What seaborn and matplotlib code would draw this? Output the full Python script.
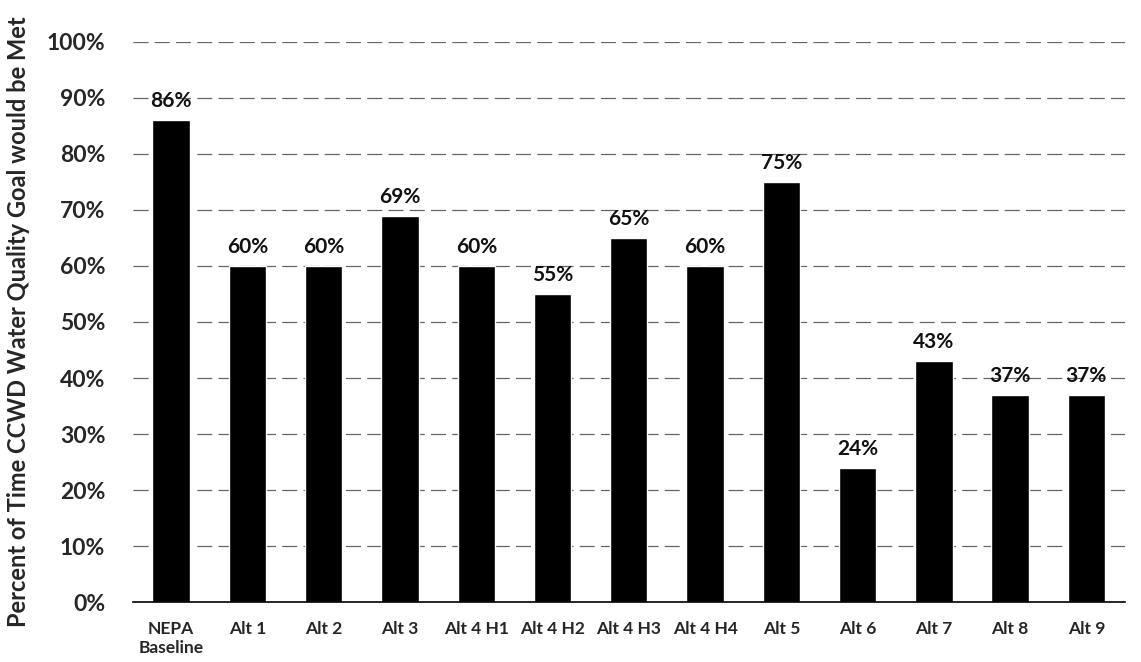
import matplotlib
matplotlib.use("Agg")
import matplotlib.pyplot as plt
import seaborn as sns
import pandas as pd

categories = ["NEPA\nBaseline", "Alt 1", "Alt 2", "Alt 3", "Alt 4 H1", "Alt 4 H2",
              "Alt 4 H3", "Alt 4 H4", "Alt 5", "Alt 6", "Alt 7", "Alt 8", "Alt 9"]
values = [86, 60, 60, 69, 60, 55, 65, 60, 75, 24, 43, 37, 37]
yticks = [0, 10, 20, 30, 40, 50, 60, 70, 80, 90, 100]

sns.set_theme(style="white")
plt.rcParams['font.family'] = ['Lato', 'DejaVu Sans']

df = pd.DataFrame({"cat": categories, "val": values})
fig = plt.figure(figsize=(11.41, 6.62), dpi=100)
ax = fig.add_axes([0.1166, 0.0906, 0.869, 0.846])

for y in yticks[1:]:
    ax.axhline(y, color="#666666", lw=0.9, ls=(0, (12, 5)), zorder=0)

sns.barplot(data=df, x="cat", y="val", color="black", width=0.49, ax=ax,
            saturation=1, zorder=2)

for i, v in enumerate(values):
    ax.text(i, v + 1.6, f"{v}%", ha="center", va="bottom", fontsize=15,
            fontweight="bold", color="#111111", zorder=3)

ax.set_ylim(0, 100)
ax.set_xlim(-0.5, len(categories) - 0.5)
ax.set_yticks(yticks)
ax.set_yticklabels([f"{t}%" for t in yticks], fontsize=16.5, fontweight="bold")
ax.set_xticks(range(len(categories)))
ax.set_xticklabels(categories, fontsize=12.5, fontweight="bold", va="top")
ax.tick_params(axis="x", pad=14, length=0)
ax.tick_params(axis="y", pad=20, length=0)
ax.set_xlabel("")
ax.set_ylabel("Percent of Time CCWD Water Quality Goal would be Met",
              fontsize=17, fontweight="bold", labelpad=12)
for s in ["top", "right", "left"]:
    ax.spines[s].set_visible(False)
ax.spines["bottom"].set_color("black")
ax.spines["bottom"].set_linewidth(1.2)

fig.savefig("out.png", dpi=100)
